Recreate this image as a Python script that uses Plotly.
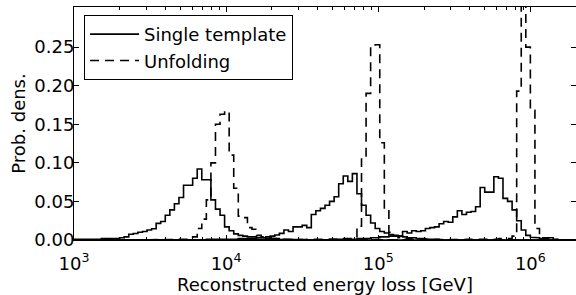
import numpy as np
import plotly.graph_objects as go

# ---- binning (log10 of energy in GeV) ----
LOG_START = 3.0
BIN_WIDTH = 0.03
N_BINS = 110

# ---- data: probability per bin, each series given from a starting bin index ----
single_1_start = 0
single_1 = [0.001, 0.001, 0.0005, 0.001, 0.001, 0.001, 0.002, 0.002, 0.002, 0.002,
            0.003, 0.004, 0.0074, 0.0085, 0.010, 0.011, 0.013, 0.0145, 0.0216, 0.024,
            0.032, 0.039, 0.047, 0.055, 0.071, 0.071, 0.080, 0.092, 0.078, 0.078,
            0.052, 0.040, 0.032, 0.017, 0.012, 0.008, 0.006, 0.005, 0.004, 0.004,
            0.003, 0.003, 0.002, 0.002, 0.002, 0.001, 0.001, 0.001, 0.001, 0.0005]

unfold_1_start = 20
unfold_1 = [0.0, 0.0005, 0.001, 0.001, 0.001, 0.002, 0.004, 0.015, 0.027, 0.052,
            0.100, 0.150, 0.163, 0.167, 0.110, 0.067, 0.031, 0.029, 0.016, 0.014,
            0.006, 0.004, 0.003, 0.002, 0.002, 0.001, 0.001, 0.0005]

single_2_start = 28
single_2 = [0.0005, 0.001, 0.001, 0.001, 0.001, 0.001, 0.001, 0.001, 0.002, 0.002, 0.002, 0.002,
            0.003, 0.003, 0.004, 0.005, 0.0065, 0.0086, 0.013, 0.011, 0.017, 0.017,
            0.019, 0.016, 0.033, 0.038, 0.041, 0.045, 0.050, 0.056, 0.073, 0.083,
            0.076, 0.086, 0.060, 0.045, 0.032, 0.022, 0.015, 0.011, 0.009, 0.007,
            0.005, 0.005, 0.004, 0.003, 0.003, 0.002, 0.002, 0.001, 0.001, 0.001]

unfold_2_start = 50
unfold_2 = [0.0005, 0.001, 0.001, 0.001, 0.001, 0.001, 0.001, 0.001, 0.002, 0.002,
            0.002, 0.003, 0.018, 0.105, 0.190, 0.250, 0.253, 0.126, 0.039, 0.010,
            0.005, 0.003, 0.002, 0.002, 0.001, 0.001, 0.001, 0.0005]

single_3_start = 55
single_3 = [0.0005, 0.001, 0.001, 0.001, 0.001,
            0.001, 0.001, 0.002, 0.002, 0.002, 0.003, 0.003, 0.004, 0.004, 0.005,
            0.006, 0.005, 0.011, 0.009, 0.012, 0.011, 0.012, 0.015, 0.016, 0.017,
            0.021, 0.024, 0.023, 0.030, 0.038, 0.033, 0.036, 0.037, 0.043, 0.068,
            0.062, 0.062, 0.082, 0.080, 0.054, 0.050, 0.039, 0.025, 0.013, 0.006,
            0.0035, 0.003, 0.002, 0.003, 0.003, 0.001]

unfold_3_start = 85
unfold_3 = [0.0005, 0.001, 0.001, 0.001, 0.001,
            0.001, 0.001, 0.001, 0.002, 0.002, 0.002, 0.005, 0.193, 0.340, 0.250,
            0.168, 0.015, 0.003, 0.002, 0.001, 0.0005]

x_tick_vals = [1e3, 1e4, 1e5, 1e6]
x_tick_text = ["10<sup>3</sup>", "10<sup>4</sup>", "10<sup>5</sup>", "10<sup>6</sup>"]
y_tick_vals = [0.00, 0.05, 0.10, 0.15, 0.20, 0.25]

FONT = "DejaVu Sans"
DASH = "9px,6px"

edges = 10 ** (LOG_START + BIN_WIDTH * np.arange(N_BINS + 1))


def step_xy(start, values):
    vals = np.zeros(N_BINS)
    vals[start:start + len(values)] = values
    xs = np.concatenate([[edges[0]], np.repeat(edges, 2)[1:-1], [edges[-1]]])
    ys = np.concatenate([[0.0], np.repeat(vals, 2), [0.0]])
    return xs, ys


fig = go.Figure()

series = [
    ("Single template", single_1_start, single_1, "solid", True),
    ("Unfolding", unfold_1_start, unfold_1, DASH, True),
    ("Single template", single_2_start, single_2, "solid", False),
    ("Unfolding", unfold_2_start, unfold_2, DASH, False),
    ("Single template", single_3_start, single_3, "solid", False),
    ("Unfolding", unfold_3_start, unfold_3, DASH, False),
]
for name, start, vals, dash, show in series:
    xs, ys = step_xy(start, vals)
    fig.add_trace(go.Scatter(
        x=xs, y=ys, mode="lines", name=name, showlegend=show,
        line=dict(color="black", width=1.6, dash=dash),
        cliponaxis=True,
    ))

minor_vals = [k * 10 ** d for d in range(3, 7) for k in range(2, 10) if k * 10 ** d < 2e6]

fig.update_layout(
    width=576, height=295,
    margin=dict(l=74, r=0, t=7, b=55),
    paper_bgcolor="white", plot_bgcolor="white",
    font=dict(family=FONT, size=18, color="black"),
    showlegend=True,
    legend=dict(
        x=0.02, y=0.966, xanchor="left", yanchor="top",
        bordercolor="black", borderwidth=1, bgcolor="white",
        font=dict(size=18), tracegroupgap=0, itemwidth=49,
    ),
    xaxis=dict(
        type="log", range=[3.0, 6.3], automargin=False,
        tickmode="array", tickvals=x_tick_vals, ticktext=x_tick_text,
        ticks="inside", ticklen=5, tickwidth=1, tickcolor="black",
        showline=True, linecolor="black", linewidth=1, mirror="ticks",
        showgrid=False, zeroline=False, ticklabelstandoff=7,
        minor=dict(tickmode="array", tickvals=minor_vals, ticks="inside",
                   ticklen=3, tickwidth=1, tickcolor="black", showgrid=False),
        title=dict(text="Reconstructed energy loss [GeV]", font=dict(size=18), standoff=5),
        tickfont=dict(size=18),
    ),
    yaxis=dict(
        range=[0, 0.302], automargin=False,
        tickmode="array", tickvals=y_tick_vals, tickformat=".2f",
        ticks="inside", ticklen=5, tickwidth=1, tickcolor="black",
        showline=True, linecolor="black", linewidth=1, mirror="ticks",
        showgrid=False, zeroline=False, ticklabelstandoff=-5,
        title=dict(text="Prob. dens.", font=dict(size=18), standoff=4),
        tickfont=dict(size=18),
    ),
)

fig.write_html("out.html", config={"displayModeBar": False},
               post_script="document.body.style.margin='0';")
